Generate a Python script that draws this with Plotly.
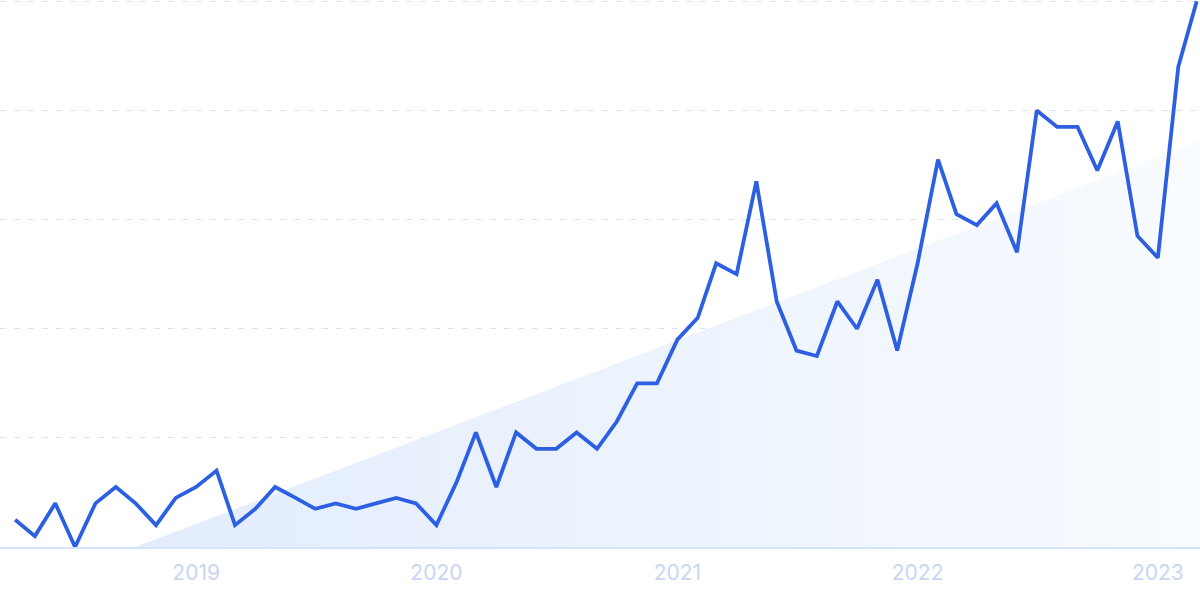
import pandas as pd
import plotly.graph_objects as go

# Monthly interest index, Apr 2018 .. Mar 2023
months = pd.date_range("2018-04-01", periods=60, freq="MS")
values = [5, 2, 8, 0, 8, 11, 8, 4, 9, 11,
          14, 4, 7, 11, 9, 7, 8, 7, 8, 9,
          8, 4, 12, 21, 11, 21, 18, 18, 21, 18,
          23, 30, 30, 38, 42, 52, 50, 67, 45, 36,
          35, 45, 40, 49, 36, 52, 71, 61, 59, 63,
          54, 80, 77, 77, 69, 78, 57, 53, 88, 100]

# Trend area (start and end of the trend line)
trend_x = ["2018-10-01", "2023-03-06"]
trend_y = [0, 74.4]

tick_vals = ["2019-01-01", "2020-01-01", "2021-01-01", "2022-01-01", "2023-01-01"]
tick_text = ["2019", "2020", "2021", "2022", "2023"]

fig = go.Figure()

fig.add_trace(go.Scatter(
    x=trend_x, y=trend_y, mode="none", fill="tozeroy",
    fillgradient=dict(type="horizontal",
                      colorscale=[[0, "#e2ecfb"], [1, "#f8fbff"]]),
    hoverinfo="skip", showlegend=False,
))

fig.add_trace(go.Scatter(
    x=months, y=values, mode="lines",
    line=dict(color="#2d5fe2", width=3.8),
    showlegend=False,
))

fig.update_layout(
    width=1200, height=599,
    margin=dict(l=0, r=0, t=0, b=52),
    paper_bgcolor="white", plot_bgcolor="white",
    font=dict(family="Inter", size=21, color="#c9d5f4"),
)

fig.update_xaxes(
    type="date",
    range=["2018-03-09", "2023-03-06"],
    tickvals=tick_vals, ticktext=tick_text,
    showgrid=False, zeroline=False,
    showline=True, linecolor="#d4e4fa", linewidth=1.5,
    ticks="outside", ticklen=6, tickcolor="rgba(0,0,0,0)",
)

fig.update_yaxes(
    range=[0, 100.25],
    tickvals=[0, 20, 40, 60, 80, 100],
    showticklabels=False, zeroline=False,
    showgrid=True, gridcolor="#d5e3fb", gridwidth=1.3,
    griddash="6px,8px",
)

fig.write_html("out.html",
               config={"displayModeBar": False},
               post_script="document.body.style.margin='0';document.body.style.overflow='hidden';")
